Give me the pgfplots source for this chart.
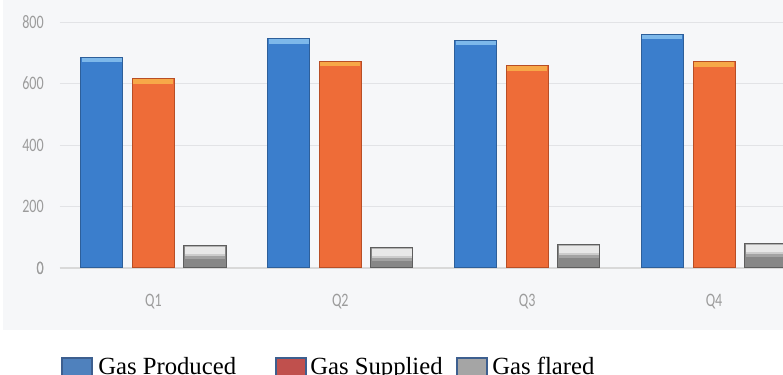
\documentclass[border=0pt]{standalone}
\usepackage{pgfplots}
\pgfplotsset{compat=1.18}
\usepackage{fontspec}
\setmainfont{Liberation Serif}
\newfontfamily\tickfont[FakeStretch=0.74]{Carlito}
\newlength\px \setlength\px{0.75pt}
\definecolor{barblue}{HTML}{3B7ECC}
\definecolor{bluecap}{HTML}{7DB8EA}
\definecolor{bluedark}{HTML}{2D5F9A}
\definecolor{barorange}{HTML}{EE6C38}
\definecolor{orangecap}{HTML}{F7A848}
\definecolor{orangedark}{HTML}{B84E25}
\definecolor{graydark}{HTML}{5E5E5E}
\definecolor{tickgray}{HTML}{9C9C9C}
\definecolor{gridgray}{HTML}{E2E3E6}
\definecolor{bggray}{HTML}{F6F7F9}
\definecolor{legblue}{HTML}{4F81BD}
\definecolor{legred}{HTML}{C0504D}
\definecolor{leggray}{HTML}{A5A5A5}
\definecolor{legborder}{HTML}{3D5F8F}
\pgfplotstableread{
x produced supplied flared
0 686 615 74
1 745 673 68
2 741 657 78
3 759 670 81
}\gasdata
\pgfplotsset{
  capplot/.style 2 args={draw=none, fill=none, forget plot,
    error bars/.cd, y dir=minus, y fixed=#2, error mark=none,
    error bar style={line width=40\px, color=#1, line cap=butt, solid}},
}
\begin{document}
\begin{tikzpicture}
\path[use as bounding box] (-60\px,-107\px) rectangle (723\px,268\px);
\fill[bggray] (-57\px,-62\px) rectangle (723\px,268\px);
\begin{axis}[
  at={(0,0)}, anchor=south west,
  scale only axis,
  width=723\px, height=246\px,
  xmin=-0.5, xmax=3.369,
  ymin=0, ymax=800,
  ytick={0,200,400,600,800},
  xtick={0,1,2,3},
  xticklabels={Q1,Q2,Q3,Q4},
  axis line style={draw=none},
  major tick length=0pt,
  ymajorgrids,
  grid style={gridgray, line width=1\px},
  extra y ticks={0},
  extra y tick style={grid style={black!15, line width=1.2\px}},
  yticklabel style={anchor=east, inner sep=0pt, xshift=-16\px, font=\tickfont\fontsize{19\px}{19\px}\selectfont, text=tickgray},
  xticklabel style={anchor=center, inner sep=0pt, yshift=-33.5\px, font=\tickfont\fontsize{19\px}{19\px}\selectfont, text=tickgray},
  /pgf/number format/assume math mode=true,
  ybar, bar width=0.225,
  clip=true,
]
% Gas Produced
\addplot[bar shift=-0.276, fill=barblue, draw=none] table[x=x, y=produced] {\gasdata};
\addplot[bar shift=-0.276, capplot={bluecap}{15}] table[x=x, y=produced] {\gasdata};
\addplot[bar shift=-0.276, fill=none, draw=bluedark, line width=1\px, forget plot] table[x=x, y=produced] {\gasdata};
% Gas Supplied
\addplot[bar shift=0, fill=barorange, draw=none] table[x=x, y=supplied] {\gasdata};
\addplot[bar shift=0, capplot={orangecap}{15}] table[x=x, y=supplied] {\gasdata};
\addplot[bar shift=0, fill=none, draw=orangedark, line width=1\px, forget plot] table[x=x, y=supplied] {\gasdata};
% Gas flared
\addplot[bar shift=0.276, fill=black!47, draw=none] table[x=x, y=flared] {\gasdata};
\addplot[bar shift=0.276, capplot={black!36}{44}] table[x=x, y=flared] {\gasdata};
\addplot[bar shift=0.276, capplot={black!20}{36}] table[x=x, y=flared] {\gasdata};
\addplot[bar shift=0.276, capplot={black!9}{28}] table[x=x, y=flared] {\gasdata};
\addplot[bar shift=0.276, capplot={black!30}{7}] table[x=x, y=flared] {\gasdata};
\addplot[bar shift=0.276, fill=none, draw=graydark, line width=1\px, forget plot] table[x=x, y=flared] {\gasdata};
\end{axis}
% legend
\begin{scope}[font=\fontsize{24.7\px}{24.7\px}\selectfont]
\filldraw[fill=legblue, draw=legborder, line width=2\px] (2\px,-90\px) rectangle (32\px,-115\px);
\node[anchor=base west, inner sep=0pt] at (38\px,-107\px) {Gas Produced};
\filldraw[fill=legred, draw=legborder, line width=2\px] (216\px,-90\px) rectangle (246\px,-115\px);
\node[anchor=base west, inner sep=0pt] at (250\px,-107\px) {Gas Supplied};
\filldraw[fill=leggray, draw=legborder, line width=2\px] (397\px,-90\px) rectangle (427\px,-115\px);
\node[anchor=base west, inner sep=0pt] at (432\px,-107\px) {Gas flared};
\end{scope}
\end{tikzpicture}
\end{document}
